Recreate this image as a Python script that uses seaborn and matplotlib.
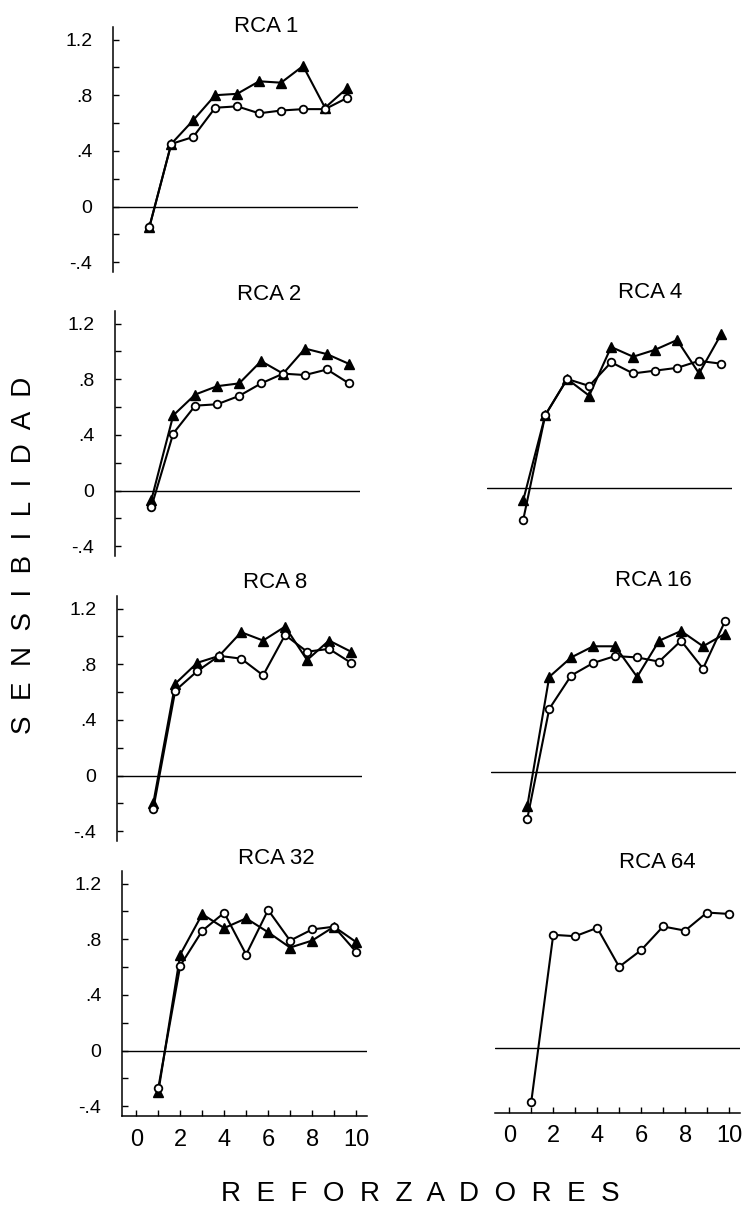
import matplotlib
matplotlib.use("Agg")
import matplotlib.pyplot as plt
import numpy as np
import pandas as pd
import seaborn as sns
from matplotlib.ticker import MultipleLocator

# ---------------- data ----------------
reforzadores = [1, 2, 3, 4, 5, 6, 7, 8, 9, 10]

rca1_tri = [-0.15, 0.45, 0.62, 0.80, 0.81, 0.90, 0.89, 1.01, 0.71, 0.85]
rca1_cir = [-0.15, 0.45, 0.50, 0.71, 0.72, 0.67, 0.69, 0.70, 0.70, 0.78]

rca2_tri = [-0.07, 0.54, 0.69, 0.75, 0.77, 0.93, 0.84, 1.02, 0.98, 0.91]
rca2_cir = [-0.12, 0.41, 0.61, 0.62, 0.68, 0.77, 0.84, 0.83, 0.87, 0.77]

rca4_tri = [-0.09, 0.52, 0.78, 0.66, 1.01, 0.94, 0.99, 1.06, 0.82, 1.10]
rca4_cir = [-0.23, 0.52, 0.78, 0.73, 0.90, 0.82, 0.84, 0.86, 0.91, 0.89]

rca8_tri = [-0.20, 0.66, 0.81, 0.86, 1.03, 0.97, 1.07, 0.83, 0.97, 0.89]
rca8_cir = [-0.24, 0.61, 0.75, 0.86, 0.84, 0.72, 1.01, 0.89, 0.91, 0.81]

rca16_tri = [-0.25, 0.68, 0.82, 0.90, 0.90, 0.68, 0.94, 1.01, 0.90, 0.99]
rca16_cir = [-0.34, 0.45, 0.69, 0.78, 0.83, 0.82, 0.79, 0.94, 0.74, 1.08]

rca32_tri = [-0.30, 0.69, 0.98, 0.88, 0.95, 0.85, 0.74, 0.79, 0.89, 0.78]
rca32_cir = [-0.27, 0.61, 0.86, 0.99, 0.69, 1.01, 0.79, 0.87, 0.89, 0.71]

rca64_cir = [-0.39, 0.81, 0.80, 0.86, 0.58, 0.70, 0.87, 0.84, 0.97, 0.96]

panel_titles = ["RCA 1", "RCA 2", "RCA 4", "RCA 8", "RCA 16", "RCA 32", "RCA 64"]
y_ticks = [-0.4, 0.0, 0.4, 0.8, 1.2]
y_tick_labels = ["-.4", "0", ".4", ".8", "1.2"]
x_ticks = [0, 2, 4, 6, 8, 10]
x_tick_labels = ["0", "2", "4", "6", "8", "10"]
y_label = "S  E  N  S  I  B  I  L  I  D  A  D"
x_label = "R  E  F  O  R  Z  A  D  O  R  E  S"

# ---------------- style ----------------
sns.set_style("white")
plt.rcParams["font.family"] = ["Liberation Sans", "DejaVu Sans"]

W, H = 743, 1209
fig = plt.figure(figsize=(W / 100, H / 100), dpi=100)
fig.patch.set_facecolor("white")

AX_W, AX_H = 245, 245
XLIM = (-0.65, 10.5)
YLIM = (-0.47, 1.29)


def add_ax(left_px, top_px):
    return fig.add_axes([left_px / W, 1 - (top_px + AX_H) / H, AX_W / W, AX_H / H])


def draw(ax, tri, cir, show_y, show_x):
    ax.set_facecolor("white")
    ax.axhline(0, color="black", lw=1.0, zorder=1)
    if tri is not None:
        df_t = pd.DataFrame({"x": reforzadores, "y": tri})
        sns.lineplot(data=df_t, x="x", y="y", ax=ax, color="black", lw=1.5,
                     marker="^", markersize=6.5, markerfacecolor="black",
                     markeredgecolor="black", markeredgewidth=1.0, zorder=3)
    df_c = pd.DataFrame({"x": reforzadores, "y": cir})
    sns.lineplot(data=df_c, x="x", y="y", ax=ax, color="black", lw=1.5,
                 marker="o", markersize=5.5, markerfacecolor="white",
                 markeredgecolor="black", markeredgewidth=1.3, zorder=4)
    ax.set_xlim(*XLIM)
    ax.set_ylim(*YLIM)
    ax.set_xlabel("")
    ax.set_ylabel("")
    for s in ["top", "right"]:
        ax.spines[s].set_visible(False)
    ax.spines["left"].set_visible(show_y)
    ax.spines["bottom"].set_visible(show_x)
    for s in ["left", "bottom"]:
        ax.spines[s].set_linewidth(1.1)
        ax.spines[s].set_color("black")
    if show_y:
        ax.set_yticks(y_ticks)
        ax.set_yticklabels(y_tick_labels)
        ax.yaxis.set_minor_locator(MultipleLocator(0.2))
        ax.tick_params(axis="y", which="both", direction="in", length=4, width=1,
                       color="black", labelsize=14, pad=15, labelcolor="black", left=True)
    else:
        ax.set_yticks([])
        ax.tick_params(axis="y", which="both", left=False, labelleft=False)
    if show_x:
        ax.set_xticks(x_ticks)
        ax.set_xticklabels(x_tick_labels)
        ax.xaxis.set_minor_locator(MultipleLocator(1))
        ax.tick_params(axis="x", which="both", direction="in", length=4, width=1,
                       color="black", labelsize=17, pad=9, labelcolor="black", bottom=True)
    else:
        ax.set_xticks([])
        ax.tick_params(axis="x", which="both", bottom=False, labelbottom=False)


# left column
ax1 = add_ax(113, 27)
draw(ax1, rca1_tri, rca1_cir, True, False)
ax2 = add_ax(115, 311)
draw(ax2, rca2_tri, rca2_cir, True, False)
ax3 = add_ax(117, 596)
draw(ax3, rca8_tri, rca8_cir, True, False)
ax4 = add_ax(122, 871)
draw(ax4, rca32_tri, rca32_cir, True, True)
# right column
ax5 = add_ax(487, 308)
draw(ax5, rca4_tri, rca4_cir, False, False)
ax6 = add_ax(491, 592)
draw(ax6, rca16_tri, rca16_cir, False, False)
ax7 = add_ax(495, 868)
draw(ax7, None, rca64_cir, False, True)

# panel titles
title_pos = [(266, 27), (269, 295), (650, 292), (275, 582), (653, 580), (276, 858), (657, 862)]
for t, (px, py) in zip(panel_titles, title_pos):
    fig.text(px / W, 1 - py / H, t, ha="center", va="center", fontsize=16, color="black")

fig.text(24 / W, 1 - 555 / H, y_label, rotation=90, ha="center", va="center",
         fontsize=20, color="black")
fig.text(420 / W, 1 - 1194 / H, x_label, ha="center", va="center",
         fontsize=20, color="black")

fig.savefig("out.png", dpi=100, facecolor="white")
